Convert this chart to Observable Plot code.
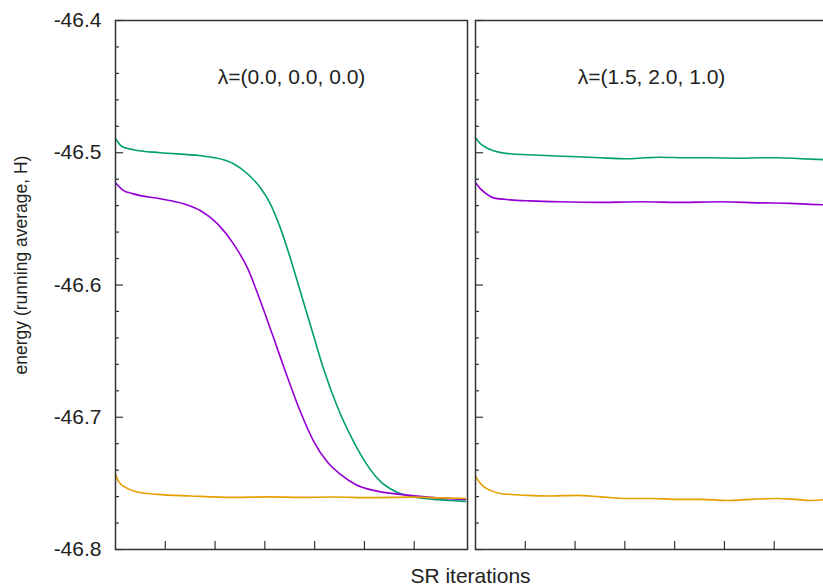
<!DOCTYPE html>
<html><head><meta charset="utf-8">
<script src="https://cdn.jsdelivr.net/npm/d3@7"></script>
<script src="https://cdn.jsdelivr.net/npm/@observablehq/plot@0.6"></script>
<style>
html,body{margin:0;padding:0;background:#fff;overflow:hidden;}
#chart{width:823px;height:587px;overflow:hidden;}
</style></head><body><div id="chart"></div>
<script>
// Panels (lambda settings)
const panels = ["λ=(0.0, 0.0, 0.0)", "λ=(1.5, 2.0, 1.0)"];
const seriesNames = ["A", "B", "C"];
const seriesColors = ["#009e73", "#9400d3", "#e69f00"];

// Left panel: iterations (thousands) and energies
const leftGreenX = [0, 0.14, 0.36, 0.90, 1.71, 2.17, 2.37, 2.65, 2.91, 3.11, 3.31, 3.51, 3.71, 3.98, 4.18, 4.46, 4.78, 5.02, 5.32, 5.62, 5.92, 6.39, 6.73, 7.03];
const leftGreenY = [-46.4894, -46.4955, -46.4977, -46.5000, -46.5023, -46.5053, -46.5083, -46.5159, -46.5265, -46.5386, -46.5568, -46.5795, -46.6045, -46.6386, -46.6636, -46.6924, -46.7182, -46.7341, -46.7485, -46.7561, -46.7598, -46.7621, -46.7629, -46.7636];

const leftPurpleX = [0, 0.14, 0.36, 0.90, 1.37, 1.71, 2.05, 2.37, 2.65, 2.91, 3.17, 3.41, 3.71, 3.98, 4.26, 4.52, 4.82, 5.18, 5.72, 6.33, 7.03];
const leftPurpleY = [-46.5227, -46.5280, -46.5311, -46.5348, -46.5386, -46.5439, -46.5538, -46.5689, -46.5871, -46.6121, -46.6394, -46.6652, -46.6955, -46.7182, -46.7341, -46.7432, -46.7508, -46.7553, -46.7583, -46.7606, -46.7621];

const leftOrangeX = [0, 0.06, 0.20, 0.40, 0.84, 1.51, 2.37, 3.11, 3.71, 4.38, 5.12, 5.92, 6.53, 7.03];
const leftOrangeY = [-46.7432, -46.7485, -46.7530, -46.7561, -46.7583, -46.7595, -46.7606, -46.7602, -46.7606, -46.7603, -46.7608, -46.7604, -46.7610, -46.7614];

// Right panel
const rightGreenX = [0, 0.10, 0.22, 0.36, 0.70, 1.04, 1.51, 2.05, 2.51, 3.05, 3.41, 3.71, 4.22, 4.72, 5.32, 5.72, 6.06, 6.53, 7.07];
const rightGreenY = [-46.4886, -46.4932, -46.4962, -46.4985, -46.5008, -46.5015, -46.5023, -46.5030, -46.5038, -46.5045, -46.5038, -46.5034, -46.5038, -46.5038, -46.5042, -46.5038, -46.5038, -46.5045, -46.5053];

const rightPurpleX = [0, 0.10, 0.22, 0.36, 0.70, 1.10, 1.71, 2.51, 3.31, 4.12, 4.92, 5.72, 6.33, 6.73, 7.07];
const rightPurpleY = [-46.5227, -46.5273, -46.5311, -46.5341, -46.5356, -46.5364, -46.5371, -46.5375, -46.5371, -46.5375, -46.5371, -46.5379, -46.5383, -46.5390, -46.5394];

const rightOrangeX = [0, 0.08, 0.16, 0.30, 0.50, 1.04, 1.51, 2.05, 2.51, 3.05, 3.51, 4.06, 4.52, 5.06, 5.52, 6.06, 6.43, 6.73, 7.07];
const rightOrangeY = [-46.7447, -46.7492, -46.7523, -46.7553, -46.7576, -46.7591, -46.7595, -46.7591, -46.7602, -46.7614, -46.7614, -46.7621, -46.7621, -46.7629, -46.7621, -46.7614, -46.7621, -46.7629, -46.7621];

// Ticks
const yMajor = [-46.8, -46.7, -46.6, -46.5, -46.4];
const yMinor = [-46.78, -46.76, -46.74, -46.72, -46.68, -46.66, -46.64, -46.62, -46.58, -46.56, -46.54, -46.52, -46.48, -46.46, -46.44, -46.42];
const xMajor = [1, 2, 3, 4, 5, 6];
const yLabel = "energy (running average, H)";
const xLabel = "SR iterations";

function rows(panel, series, xs, ys) {
  return xs.map((x, i) => ({panel, series, x, y: ys[i]}));
}
const data = [
  ...rows(panels[0], "A", leftGreenX, leftGreenY),
  ...rows(panels[0], "B", leftPurpleX, leftPurpleY),
  ...rows(panels[0], "C", leftOrangeX, leftOrangeY),
  ...rows(panels[1], "A", rightGreenX, rightGreenY),
  ...rows(panels[1], "B", rightPurpleX, rightPurpleY),
  ...rows(panels[1], "C", rightOrangeX, rightOrangeY)
];

const axisColor = "#333";
const chart = Plot.plot({
  width: 827, height: 587,
  marginLeft: 115, marginRight: 0, marginTop: 20, marginBottom: 38,
  style: {fontFamily: "'Liberation Sans', Arial, sans-serif", color: "#222", background: "#fff", maxWidth: "none", overflow: "visible"},
  fx: {domain: panels, paddingInner: 8 / 360, paddingOuter: 0, round: false, axis: null},
  x: {domain: [0, 7.07], axis: null},
  y: {domain: [-46.8, -46.4], axis: null},
  color: {domain: seriesNames, range: seriesColors},
  marks: [
    Plot.line(data, {fx: "panel", x: "x", y: "y", z: "series", stroke: "series", strokeWidth: 1.6, curve: "monotone-x"}),
    Plot.tickY(yMinor, {y: d => d, insetRight: 348, stroke: axisColor, strokeWidth: 1.2}),
    Plot.tickY(yMajor, {y: d => d, insetRight: 344, stroke: axisColor, strokeWidth: 1.2}),
    Plot.tickX(xMajor, {x: d => d, insetTop: 521, stroke: axisColor, strokeWidth: 1.2}),
    Plot.frame({stroke: axisColor, strokeWidth: 1.5}),
    Plot.axisY({ticks: yMajor, tickSize: 0, tickPadding: 14, tickFormat: d => d.toFixed(1), fontSize: 21, label: null}),
    Plot.text(panels, {fx: d => d, text: d => d, frameAnchor: "top", dy: 57, lineAnchor: "middle", fontSize: 21, fill: "#222"}),
    Plot.text([panels[0]], {fx: d => d, text: () => yLabel, frameAnchor: "left", rotate: -90, dx: -94, dy: -20, textAnchor: "middle", lineAnchor: "middle", fontSize: 17.5, fill: "#222"}),
    Plot.text([panels[0]], {fx: d => d, text: () => xLabel, frameAnchor: "bottom-right", dx: 3, dy: 26.5, textAnchor: "middle", lineAnchor: "middle", fontSize: 21, fill: "#222"})
  ]
});
document.getElementById("chart").appendChild(chart);
</script>
</body></html>
